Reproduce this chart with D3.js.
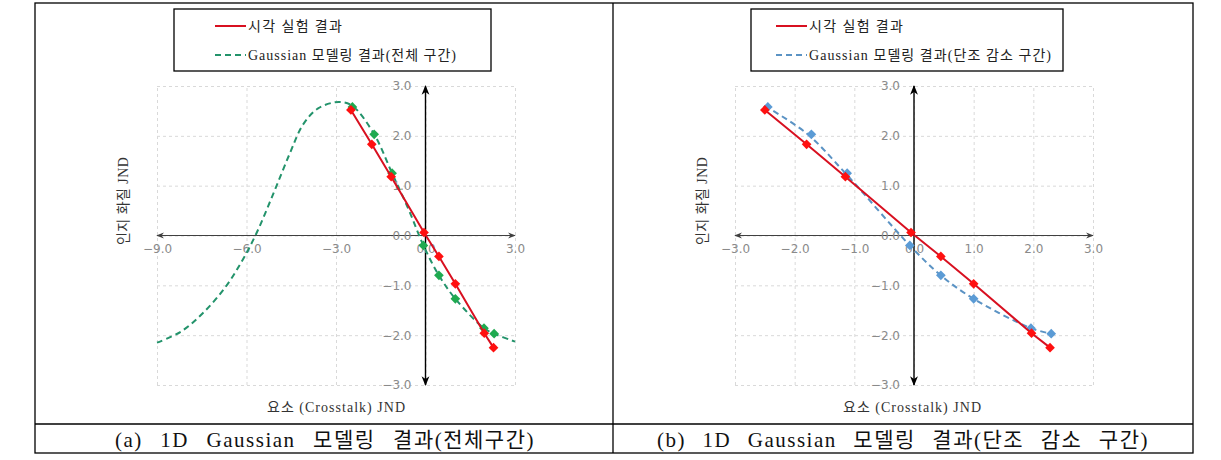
<!DOCTYPE html>
<html><head><meta charset="utf-8">
<script src="https://cdn.jsdelivr.net/npm/d3@7"></script>
<style>
body{margin:0;background:#fff;}
svg{display:block;}
</style></head>
<body>
<svg id="c" width="1221" height="460"></svg>
<script>
// ---- data ----
const expX = [-2.5, -1.8, -1.15, -0.05, 0.45, 1.0, 1.97, 2.28];
const expY = [2.52, 1.83, 1.18, 0.06, -0.42, -0.97, -1.96, -2.25];
const gaussPtX = [-2.45, -1.72, -1.12, -0.07, 0.45, 1.0, 1.96, 2.3];
const gaussPtY = [2.58, 2.03, 1.25, -0.2, -0.8, -1.27, -1.86, -1.97];
const gaussCurveX = [-9.0, -8.2, -7.45, -6.7, -6.14, -5.67, -5.1, -4.56, -4.1, -3.6, -2.9, -2.45, -1.72, -1.12, -0.55, -0.07, 0.45, 1.0, 1.96, 2.3, 3.0];
const gaussCurveY = [-2.15, -1.93, -1.55, -1.03, -0.5, 0.04, 0.84, 1.63, 2.23, 2.55, 2.68, 2.6, 2.03, 1.25, 0.5, -0.2, -0.8, -1.27, -1.86, -1.97, -2.13];
const monoCurveX = [-2.5, -1.8, -1.15, -0.07, 0.45, 1.0, 1.96, 2.3];
const monoCurveY = [2.6, 2.05, 1.25, -0.2, -0.8, -1.27, -1.86, -1.97];
const xTicksA = [-9, -6, -3, 0, 3];
const xTicksB = [-3, -2, -1, 0, 1, 2, 3];
const yTicks = [-3, -2, -1, 0, 1, 2, 3];
const legendExp = "시각 실험 결과";
const legendA = "Gaussian 모델링 결과(전체 구간)";
const legendB = "Gaussian 모델링 결과(단조 감소 구간)";
const yTitle = "인지 화질 JND";
const xTitle = "요소 (Crosstalk) JND";
const captionA = "(a) 1D Gaussian 모델링 결과(전체구간)";
const captionB = "(b) 1D Gaussian 모델링 결과(단조 감소 구간)";

const svg = d3.select("#c");
const serif = "'Liberation Serif','Noto Sans CJK KR',serif";
const defs = svg.append("defs");
function arrow(id, color){
  defs.append("marker").attr("id", id).attr("viewBox","0 0 10 10").attr("refX",9).attr("refY",5)
    .attr("markerWidth",7).attr("markerHeight",7).attr("orient","auto-start-reverse")
    .append("path").attr("d","M0,1 L10,5 L0,9 L3,5 Z").attr("fill",color);
}
arrow("arK","#000"); arrow("arG","#404040");

// table frame
const T = {x0:35, x1:1193, xm:613, y0:3, yr:424, y1:453};
svg.append("rect").attr("x",T.x0).attr("y",T.y0).attr("width",T.x1-T.x0).attr("height",T.y1-T.y0)
  .attr("fill","none").attr("stroke","#000").attr("stroke-width",1.3);
svg.append("line").attr("x1",T.xm).attr("x2",T.xm).attr("y1",T.y0).attr("y2",T.y1).attr("stroke","#000").attr("stroke-width",1.3);
svg.append("line").attr("x1",T.x0).attr("x2",T.x1).attr("y1",T.yr).attr("y2",T.yr).attr("stroke","#000").attr("stroke-width",1.3);

const y = d3.scaleLinear().domain([-3,3]).range([385,86]);

function fitWords(sel, target){
  const node = sel.node();
  const n = (sel.text().match(/ /g)||[]).length;
  const w = node.getComputedTextLength();
  if (n>0) sel.attr("word-spacing", Math.max(0,(target-w)/n));
}

function panel(opt){
  const x = d3.scaleLinear().domain(opt.xdom).range(opt.xr);
  const g = svg.append("g");
  // grid
  g.append("g").attr("transform",`translate(0,${y(-3)})`)
    .call(d3.axisBottom(x).tickValues(opt.xticks).tickSize(-(y(-3)-y(3))).tickFormat(""))
    .call(s=>{s.select(".domain").remove(); s.selectAll("line").attr("stroke","#d9d9d9").attr("stroke-dasharray","3,3");});
  g.append("g").attr("transform",`translate(${x.range()[0]},0)`)
    .call(d3.axisLeft(y).tickValues(yTicks).tickSize(-(x.range()[1]-x.range()[0])).tickFormat(""))
    .call(s=>{s.select(".domain").remove(); s.selectAll("line").attr("stroke","#d9d9d9").attr("stroke-dasharray","3,3");});
  // axes lines
  g.append("line").attr("x1",x.range()[0]).attr("x2",x.range()[1]).attr("y1",y(0)).attr("y2",y(0))
    .attr("stroke","#404040").attr("stroke-width",1.1)
    .attr("marker-start","url(#arG)").attr("marker-end","url(#arG)");
  g.append("line").attr("x1",x(0)).attr("x2",x(0)).attr("y1",y(-3)).attr("y2",y(3))
    .attr("stroke","#000").attr("stroke-width",1.4)
    .attr("marker-start","url(#arK)").attr("marker-end","url(#arK)");
  // tick labels
  const fmt = d3.format(".1f");
  g.append("g").attr("transform",`translate(${x(0)-8},0)`)
    .call(d3.axisLeft(y).tickValues(yTicks).tickSize(0).tickPadding(6).tickFormat(fmt))
    .call(s=>{s.select(".domain").remove(); s.selectAll("text").attr("fill","#8a8a8a").attr("font-size",12).attr("font-family","'DejaVu Sans',sans-serif");});
  g.append("g").attr("transform",`translate(0,${y(0)})`)
    .call(d3.axisBottom(x).tickValues(opt.xticks).tickSize(0).tickPadding(9).tickFormat(fmt))
    .call(s=>{s.select(".domain").remove(); s.selectAll("text").attr("fill","#8a8a8a").attr("font-size",12).attr("font-family","'DejaVu Sans',sans-serif");});
  // model curve
  const line = d3.line().x(d=>x(d[0])).y(d=>y(d[1])).curve(d3.curveCatmullRom.alpha(0.5));
  g.append("path").datum(opt.cx.map((v,i)=>[v,opt.cy[i]])).attr("d",line)
    .attr("fill","none").attr("stroke",opt.lineColor).attr("stroke-width",2).attr("stroke-dasharray","6,4");
  const diamond = d3.symbol().type(d3.symbolDiamond2).size(60);
  g.selectAll(".gp").data(gaussPtX.map((v,i)=>[v,gaussPtY[i]])).join("path")
    .attr("transform",d=>`translate(${x(d[0])},${y(d[1])})`).attr("d",diamond).attr("fill",opt.ptColor);
  // experiment
  const lin = d3.line().x(d=>x(d[0])).y(d=>y(d[1]));
  g.append("path").datum(expX.map((v,i)=>[v,expY[i]])).attr("d",lin)
    .attr("fill","none").attr("stroke","#d81020").attr("stroke-width",2);
  g.selectAll(".ep").data(expX.map((v,i)=>[v,expY[i]])).join("path")
    .attr("transform",d=>`translate(${x(d[0])},${y(d[1])})`).attr("d",diamond).attr("fill","#ff1010");
  // titles
  g.append("text").attr("transform",`translate(${opt.ytx},201) rotate(-90)`).attr("text-anchor","middle")
    .attr("dominant-baseline","middle").attr("font-family",serif).attr("font-size",14).attr("fill","#333")
    .attr("textLength",88).attr("lengthAdjust","spacing").text(yTitle);
  g.append("text").attr("x",opt.xtx).attr("y",412).attr("text-anchor","middle")
    .attr("font-family",serif).attr("font-size",14).attr("fill","#333")
    .attr("textLength",138).attr("lengthAdjust","spacing").text(xTitle);
  // legend
  const L = opt.leg;
  g.append("rect").attr("x",L.x).attr("y",9).attr("width",L.w).attr("height",62)
    .attr("fill","#fff").attr("stroke","#000").attr("stroke-width",1.3);
  g.append("line").attr("x1",L.lx).attr("x2",L.lx+31).attr("y1",26).attr("y2",26).attr("stroke","#d81020").attr("stroke-width",2);
  g.append("line").attr("x1",L.lx).attr("x2",L.lx+31).attr("y1",55).attr("y2",55).attr("stroke",opt.lineColor)
    .attr("stroke-width",2).attr("stroke-dasharray","6,4");
  g.append("text").attr("x",L.lx+33).attr("y",31).attr("font-family",serif).attr("font-size",14).attr("fill","#222")
    .attr("textLength",94).attr("lengthAdjust","spacing").text(legendExp);
  g.append("text").attr("x",L.lx+33).attr("y",60).attr("font-family",serif).attr("font-size",14).attr("fill","#222")
    .attr("textLength",opt.legW).attr("lengthAdjust","spacing").text(opt.legText);
  // caption
  const cap = svg.append("text").attr("x",opt.capx).attr("y",447).attr("text-anchor","middle")
    .attr("font-family",serif).attr("font-size",21).attr("letter-spacing",1.5).attr("fill","#111").text(opt.cap);
  fitWords(cap, opt.capw);
}

panel({xdom:[-9,3], xr:[157,515], xticks:xTicksA, cx:gaussCurveX, cy:gaussCurveY,
  lineColor:"#23936b", ptColor:"#1faa50", ytx:125, xtx:336,
  leg:{x:174,w:317,lx:215}, legText:legendA, legW:208, capx:325, capw:420, cap:captionA});
panel({xdom:[-3,3], xr:[735,1093], xticks:xTicksB, cx:monoCurveX, cy:monoCurveY,
  lineColor:"#5b93c4", ptColor:"#5b9bd5", ytx:704, xtx:912,
  leg:{x:751,w:312,lx:776}, legText:legendB, legW:242, capx:903, capw:492, cap:captionB});
</script>
</body></html>
